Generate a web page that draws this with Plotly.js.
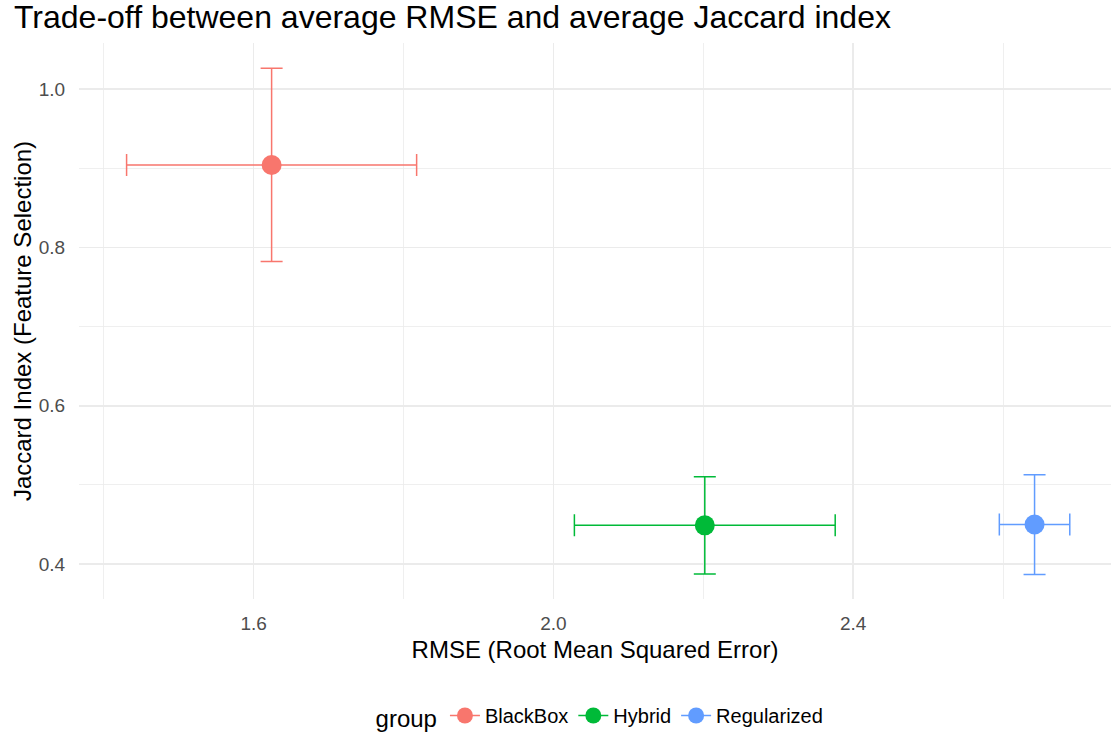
<!DOCTYPE html>
<html>
<head>
<meta charset="utf-8">
<script src="https://cdn.plot.ly/plotly-3.0.1.min.js"></script>
<style>html,body{margin:0;padding:0;background:#fff;}#chart{width:1111px;height:734px;}</style>
</head>
<body>
<div id="chart"></div>
<script>
const groups = ["BlackBox", "Hybrid", "Regularized"];
const colors = ["#F8766D", "#00BA38", "#619CFF"];
const rmse = [1.624, 2.202, 2.642];
const rmseErr = [0.1935, 0.174, 0.047];
const jaccard = [0.904, 0.449, 0.45];
const jaccardErr = [0.122, 0.0615, 0.063];

const traces = groups.map((g, i) => ({
  type: "scatter",
  mode: "lines+markers",
  name: g,
  x: [rmse[i]],
  y: [jaccard[i]],
  marker: {color: colors[i], size: 20},
  line: {color: colors[i], width: 1.5},
  error_x: {type: "data", array: [rmseErr[i]], color: colors[i], thickness: 1.5, width: 11},
  error_y: {type: "data", array: [jaccardErr[i]], color: colors[i], thickness: 1.5, width: 11}
}));

const font = "Liberation Sans, Arial, sans-serif";
const layout = {
  width: 1111, height: 734,
  margin: {l: 79, r: 0, t: 43, b: 135, autoexpand: false},
  paper_bgcolor: "#fff", plot_bgcolor: "#fff",
  font: {family: font, color: "#000"},
  title: {text: "Trade-off between average RMSE and average Jaccard index",
          font: {size: 32, color: "#000", family: font},
          xref: "container", yref: "container", x: 14/1111, xanchor: "left",
          y: 1 - 17/734, yanchor: "middle"},
  xaxis: {
    range: [1.367, 2.744], tick0: 0, dtick: 0.4, tickformat: ".1f",
    automargin: false,
    showgrid: true, gridcolor: "#ebebeb", gridwidth: 1.5,
    minor: {dtick: 0.2, tick0: 0, showgrid: true, gridcolor: "#ebebeb", gridwidth: 0.8},
    zeroline: false, showline: false,
    ticks: "outside", ticklen: 7, tickcolor: "rgba(0,0,0,0)",
    tickfont: {size: 19, color: "#4d4d4d", family: font},
    title: {text: "RMSE (Root Mean Squared Error)", font: {size: 24, color: "#000", family: font}, standoff: 8}
  },
  yaxis: {
    range: [0.356, 1.058], tick0: 0, dtick: 0.2, tickformat: ".1f",
    automargin: false,
    showgrid: true, gridcolor: "#ebebeb", gridwidth: 1.5,
    minor: {dtick: 0.1, tick0: 0, showgrid: true, gridcolor: "#ebebeb", gridwidth: 0.8},
    zeroline: false, showline: false,
    ticks: "outside", ticklen: 9, tickcolor: "rgba(0,0,0,0)",
    tickfont: {size: 19, color: "#4d4d4d", family: font},
    title: {text: "Jaccard Index (Feature Selection)", font: {size: 24, color: "#000", family: font}, standoff: 0}
  },
  showlegend: true,
  legend: {
    orientation: "h", x: 0.541, xref: "container", xanchor: "center",
    yref: "container", y: 1 - 717/734, yanchor: "middle",
    title: {text: "group", font: {size: 24, color: "#000", family: font}, side: "left"},
    font: {size: 20, color: "#000", family: font},
    itemwidth: 30
  }
};

Plotly.newPlot("chart", traces, layout, {displayModeBar: false, staticPlot: true});
</script>
</body>
</html>
